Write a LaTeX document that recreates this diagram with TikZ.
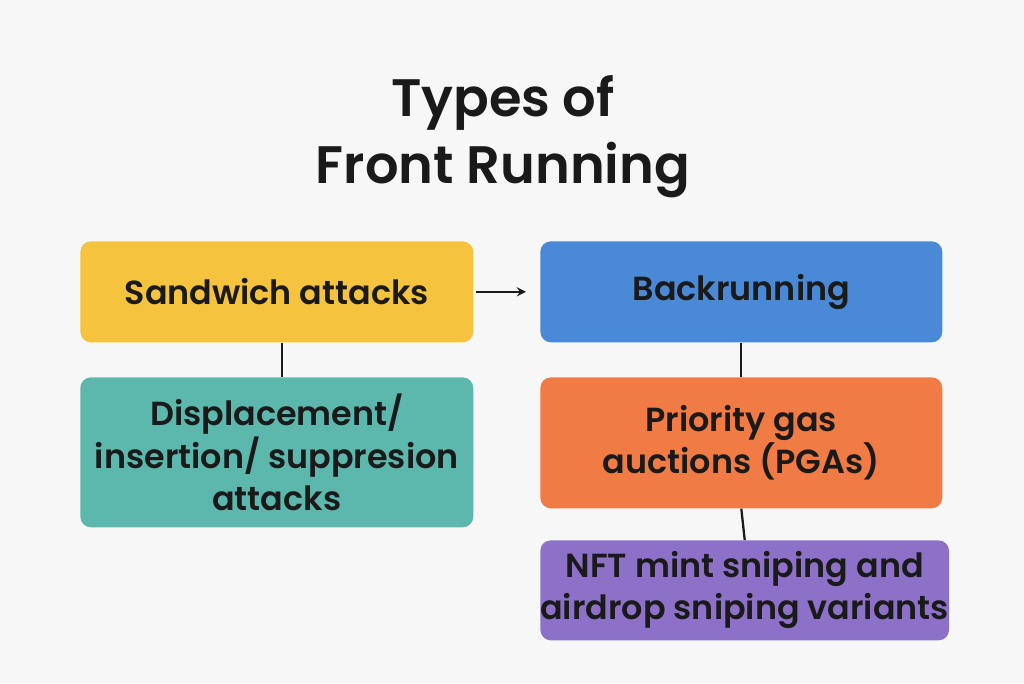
\documentclass[tikz,border=0pt]{standalone}
\usepackage{fontspec}
\setmainfont{Poppins}[BoldFont = {Poppins SemiBold}]
\usetikzlibrary{positioning}
\definecolor{bgc}{HTML}{F7F7F7}
\definecolor{yel}{HTML}{F5C33E}
\definecolor{blu}{HTML}{4A89D6}
\definecolor{tea}{HTML}{5CB8AD}
\definecolor{ora}{HTML}{F07B45}
\definecolor{pur}{HTML}{8D71C8}
\definecolor{ink}{HTML}{1A1A1A}
\tikzset{
    box/.style = {draw = none, rounded corners = 6pt, anchor = north west, inner sep = 0pt,
        align = center, text = ink, font = \fontsize{19}{24}\selectfont\bfseries},
    link/.style = {draw = ink, line width = 1.3pt}
}
\begin{document}
\begin{tikzpicture}[x = 0.02cm, y = -0.02cm]
        \fill [bgc] (0, 0) rectangle (1024, 683);
        \useasboundingbox (0, 0) rectangle (1024, 683);
        \node [font = \fontsize{30}{38}\selectfont\bfseries, align = center, text = ink] (title) at (503, 137)
            {Types of\\Front Running};
        % left column
        \node [box, fill = yel, minimum width = 7.86cm, minimum height = 2.02cm] (sand) at (80, 241)
            {Sandwich attacks};
        \node [box, fill = tea, minimum width = 7.86cm, minimum height = 3cm] (disp) at (80, 377)
            {Displacement/\\insertion/ suppresion\\attacks};
        % right column
        \node [box, fill = blu, minimum width = 8.04cm, minimum height = 2.02cm] (back) at (540, 241)
            {Backrunning};
        \node [box, fill = ora, minimum width = 8.04cm, minimum height = 2.62cm] (pga) at (540, 377)
            {Priority gas\\auctions (PGAs)};
        \node [box, fill = pur, minimum width = 8.04cm, minimum height = 2cm] (nft) at (540, 540)
            {NFT mint sniping and\\airdrop sniping variants};
        \draw [link, -stealth] (sand.east) ++(2, 0) coordinate (a) -- ([xshift = -8]back.west);
        \draw [link] (sand.south -| 282, 0) -- (disp.north -| 282, 0);
        \draw [link] (back.south) -- (pga.north);
        \draw [link] (pga.south) -- (nft.north);
\end{tikzpicture}
\end{document}
